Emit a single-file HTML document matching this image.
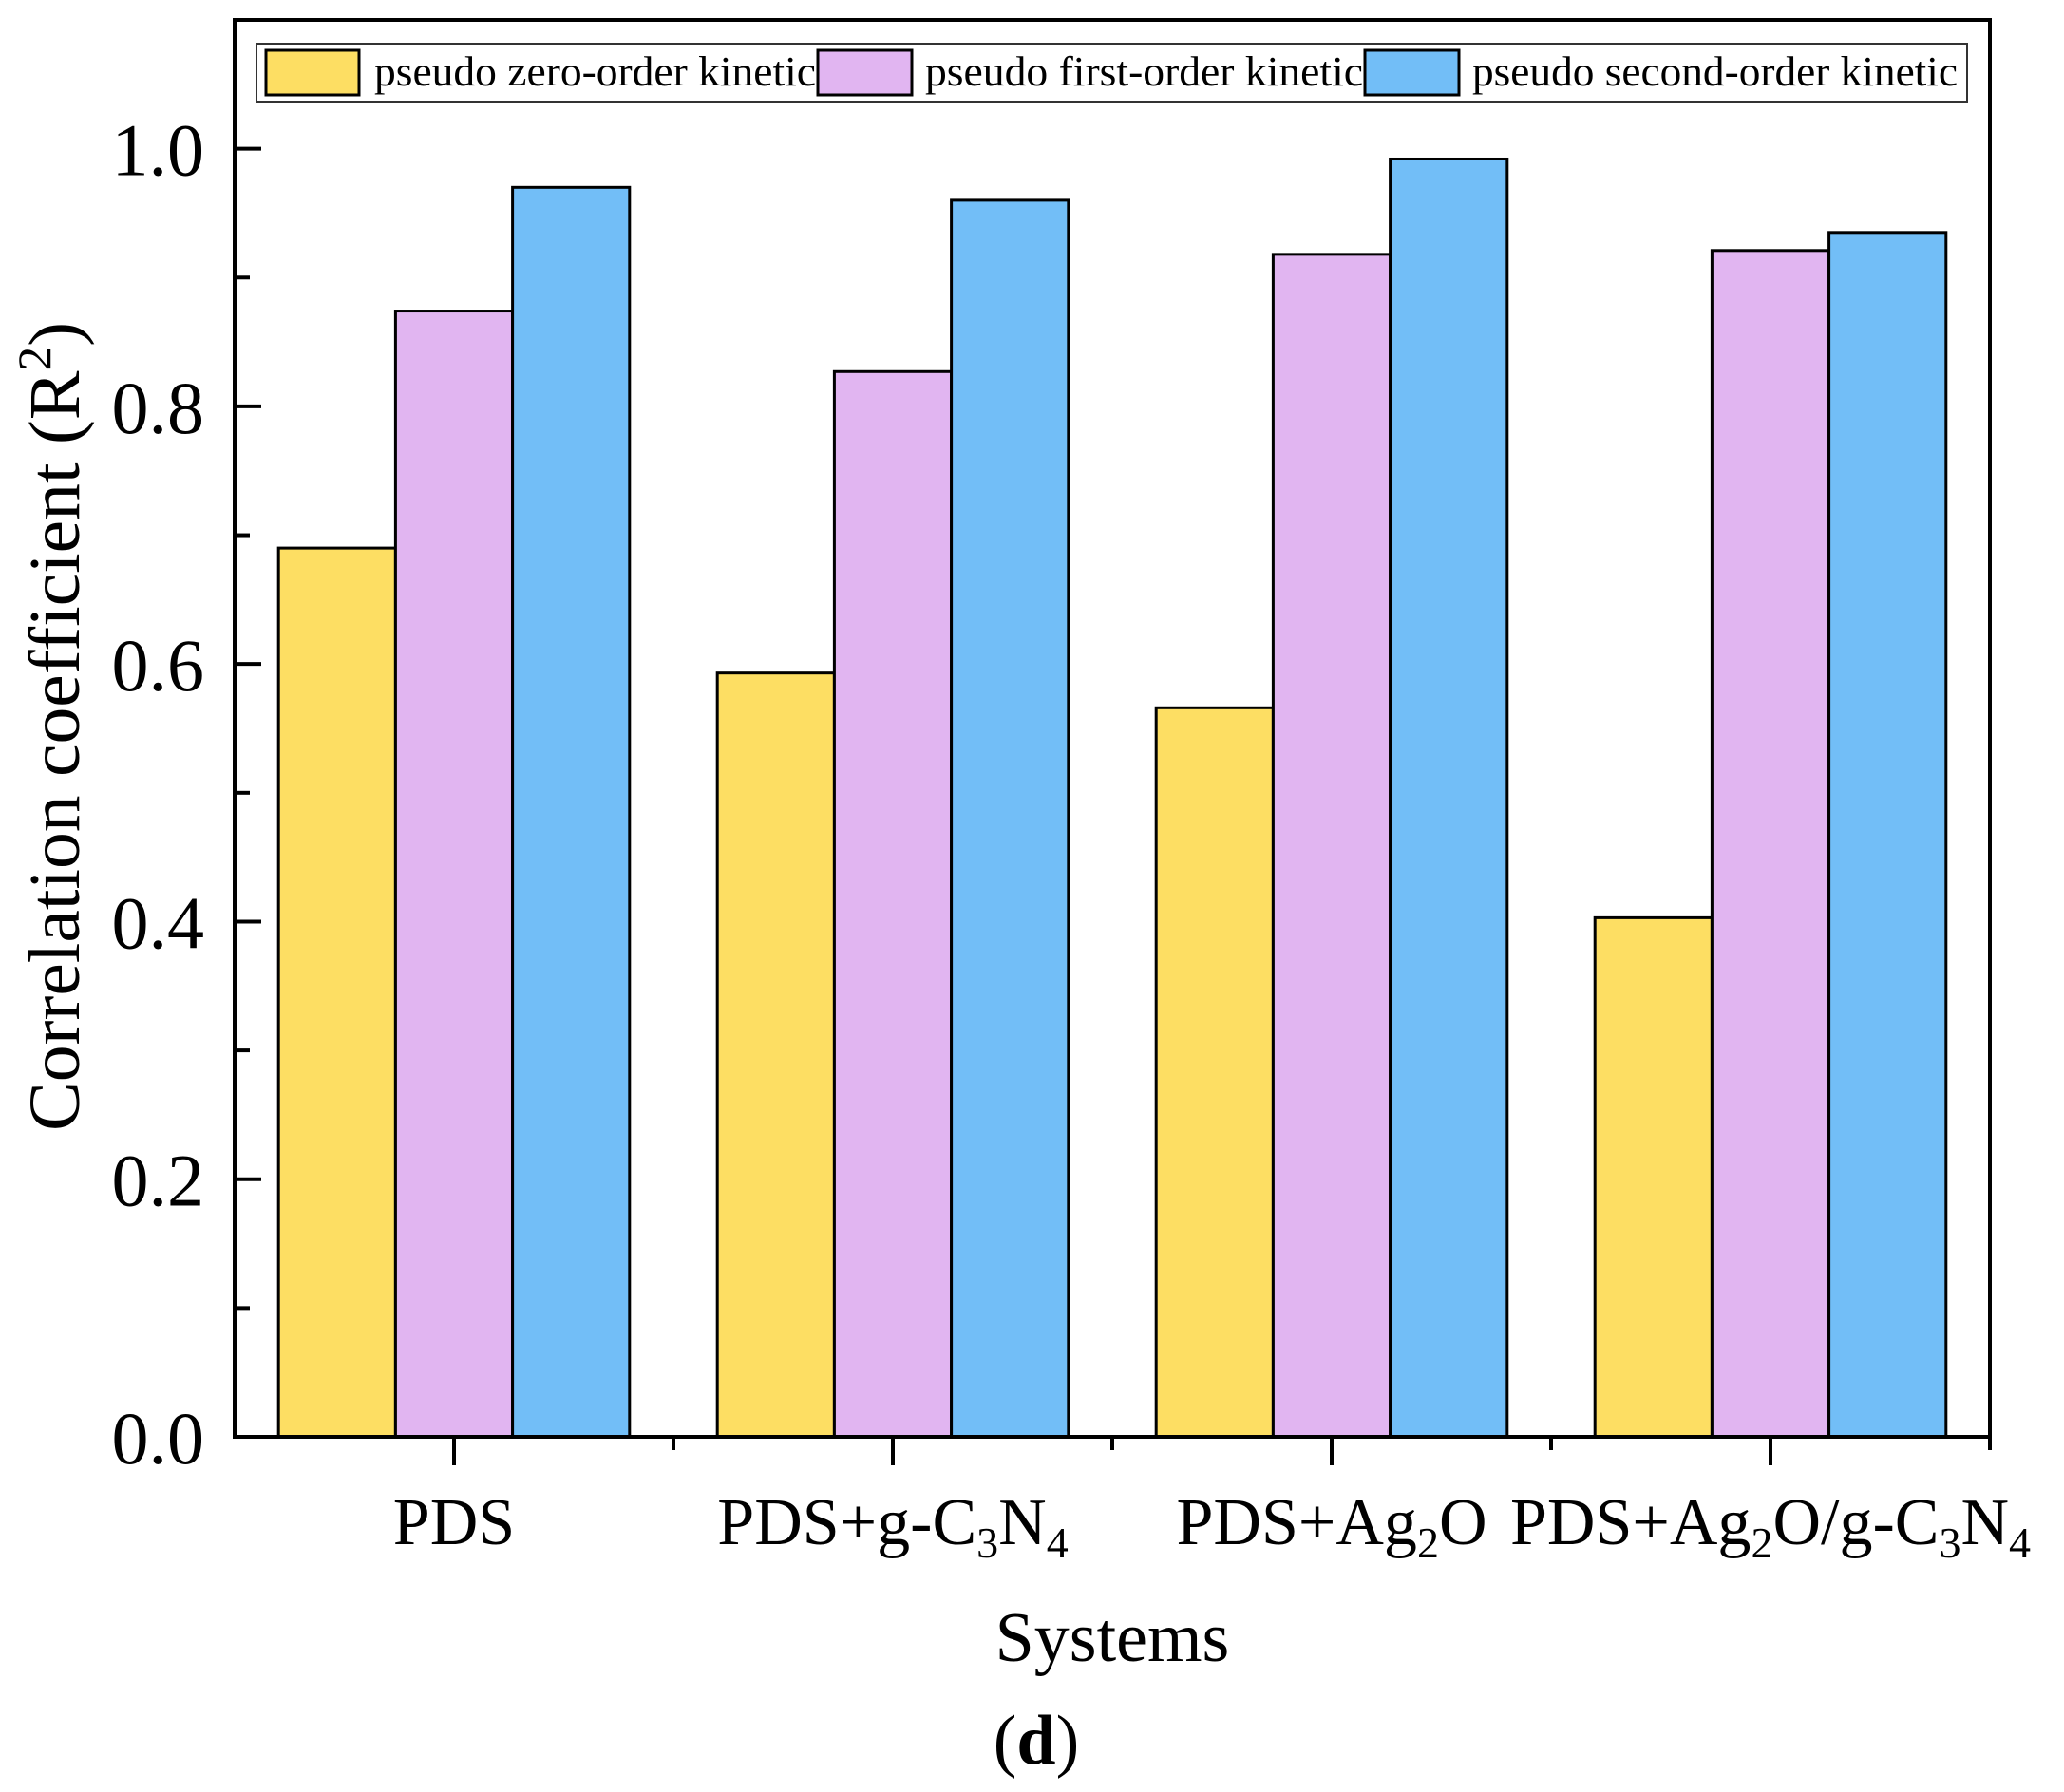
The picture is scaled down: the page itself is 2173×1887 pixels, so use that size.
<!DOCTYPE html>
<html><head><meta charset="utf-8"><style>
html,body{margin:0;padding:0;background:#fff;}
svg{display:block;font-family:"Liberation Serif",serif;}
</style></head><body>
<svg id="chart" width="2173" height="1887" viewBox="0 0 2173 1887" xmlns="http://www.w3.org/2000/svg">
<g id="bars"></g>
<g id="axes"></g>
<g id="legend">
  <rect x="270" y="46" width="1801" height="61" fill="#fff" stroke="#333" stroke-width="2"/>
  <rect x="280" y="53" width="98" height="47" fill="#FDDE63" stroke="#000" stroke-width="3"/>
  <text x="394" y="90" font-size="44" textLength="465" lengthAdjust="spacingAndGlyphs">pseudo zero-order kinetic</text>
  <rect x="861" y="53" width="99" height="47" fill="#E1B5F1" stroke="#000" stroke-width="3"/>
  <text x="974" y="90" font-size="44" textLength="461" lengthAdjust="spacingAndGlyphs">pseudo first-order kinetic</text>
  <rect x="1437" y="53" width="99" height="47" fill="#72BEF7" stroke="#000" stroke-width="3"/>
  <text x="1550" y="90" font-size="44" textLength="511" lengthAdjust="spacingAndGlyphs">pseudo second-order kinetic</text>
</g>
<text transform="translate(83,765) rotate(-90)" text-anchor="middle" font-size="76" textLength="852" lengthAdjust="spacingAndGlyphs">Correlation coefficient (R<tspan font-size="50" dy="-30">2</tspan><tspan dy="30">)</tspan></text>
<text x="1171" y="1749" text-anchor="middle" font-size="74">Systems</text>
<text x="1091" y="1857" text-anchor="middle" font-size="74">(<tspan font-weight="bold">d</tspan>)</text>
</svg>
<script>
const categories = ["PDS", "PDS+g-C3N4", "PDS+Ag2O", "PDS+Ag2O/g-C3N4"];
const zeroOrder = [0.690, 0.593, 0.566, 0.403];
const firstOrder = [0.874, 0.827, 0.918, 0.921];
const secondOrder = [0.970, 0.960, 0.992, 0.935];
const yTicks = [0.0, 0.2, 0.4, 0.6, 0.8, 1.0];
const yTickLabels = ["0.0", "0.2", "0.4", "0.6", "0.8", "1.0"];

const NS = "http://www.w3.org/2000/svg";
const L = 247, R = 2095, T = 21, B = 1513;
const yMin = 0, yMax = 1.1;
function yScale(v){ return B - (v - yMin) / (yMax - yMin) * (B - T); }
function xScale(i){ return L + (i + 0.5) / categories.length * (R - L); }
const step = (R - L) / categories.length;
const barW = step * 0.8 / 3;
const series = [
  {vals: zeroOrder, color: "#FDDE63", name: "zero"},
  {vals: firstOrder, color: "#E1B5F1", name: "first"},
  {vals: secondOrder, color: "#72BEF7", name: "second"}
];
function mk(tag, attrs, parent){
  const e = document.createElementNS(NS, tag);
  for (const k in attrs) e.setAttribute(k, attrs[k]);
  parent.appendChild(e);
  return e;
}
const bars = document.getElementById("bars");
series.forEach((s, si) => {
  s.vals.forEach((v, i) => {
    const x = xScale(i) - 1.5 * barW + si * barW;
    const r = mk("rect", {x: x, y: yScale(v), width: barW, height: B - yScale(v), fill: s.color, stroke: "#000", "stroke-width": 3}, bars);
    
    
  });
});
const axes = document.getElementById("axes");
const frame = mk("rect", {x: L, y: T, width: R - L, height: B - T, fill: "none", stroke: "#000", "stroke-width": 4}, axes);


yTicks.forEach((v, i) => {
  const y = yScale(v);
  const t = mk("line", {x1: L, x2: L + 28, y1: y, y2: y, stroke: "#000", "stroke-width": 4}, axes);
  
  
  if (i < yTicks.length - 1) {
    const ym = yScale(v + 0.1);
    const m = mk("line", {x1: L, x2: L + 16, y1: ym, y2: ym, stroke: "#000", "stroke-width": 4}, axes);
    
    
  }
  const lb = mk("text", {x: 215, y: y + 28, "text-anchor": "end", "font-size": 78}, axes);
  lb.textContent = yTickLabels[i];
  
  
});
const xLabelHTML = [
  'PDS',
  'PDS+g-C<tspan font-size="46" dy="14">3</tspan><tspan dy="-14">N</tspan><tspan font-size="46" dy="14">4</tspan>',
  'PDS+Ag<tspan font-size="46" dy="14">2</tspan><tspan dy="-14">O</tspan>',
  'PDS+Ag<tspan font-size="46" dy="14">2</tspan><tspan dy="-14">O/g-C</tspan><tspan font-size="46" dy="14">3</tspan><tspan dy="-14">N</tspan><tspan font-size="46" dy="14">4</tspan>'
];
categories.forEach((c, i) => {
  const x = xScale(i);
  const t = mk("line", {x1: x, x2: x, y1: B, y2: B + 30, stroke: "#000", "stroke-width": 4}, axes);
  
  
  const mx = x + step / 2;
  const m = mk("line", {x1: mx, x2: mx, y1: B, y2: B + 14, stroke: "#000", "stroke-width": 4}, axes);
  
  
  const lb = mk("text", {x: x, y: 1626, "text-anchor": "middle", "font-size": 70}, axes);
  lb.innerHTML = xLabelHTML[i];
  
  
});
</script>
</body></html>
